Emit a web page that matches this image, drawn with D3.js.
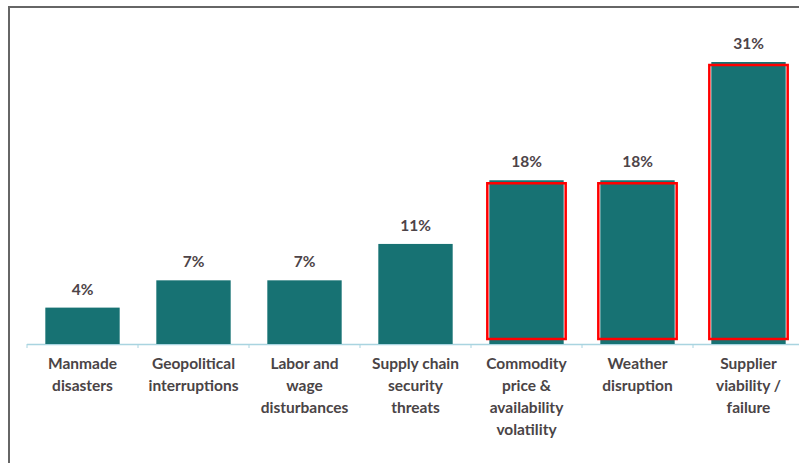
<!DOCTYPE html>
<html>
<head>
<meta charset="utf-8">
<script src="https://cdn.jsdelivr.net/npm/d3@7"></script>
<style>
  html, body { margin: 0; padding: 0; background: #fff; }
  svg { display: block; }
</style>
</head>
<body>
<svg id="chart" width="799" height="463"></svg>
<script>
// ---- data ----
const categories = [
  ["Manmade", "disasters"],
  ["Geopolitical", "interruptions"],
  ["Labor and", "wage", "disturbances"],
  ["Supply chain", "security", "threats"],
  ["Commodity", "price &", "availability", "volatility"],
  ["Weather", "disruption"],
  ["Supplier", "viability /", "failure"]
];
const values = [4, 7, 7, 11, 18, 18, 31];
const valueLabels = ["4%", "7%", "7%", "11%", "18%", "18%", "31%"];
const highlighted = [false, false, false, false, true, true, true];

// ---- layout ----
const svg = d3.select("#chart");
const baseline = 344;

// frame (top and left edges)
svg.append("path")
  .attr("d", `M9,463 L9,7 L799,7`)
  .attr("fill", "none")
  .attr("stroke", "#666")
  .attr("stroke-width", 2);

const ids = d3.range(values.length);
const x = d3.scaleBand().domain(ids).range([27, 804]).paddingInner(0.33).paddingOuter(0.165);
const y = d3.scaleLinear().domain([0, 31]).range([baseline, 62]);

// axis line with tick marks at band boundaries
const step = x.step();
const x0 = x(0) - x.paddingOuter() * step;
svg.append("line")
  .attr("x1", x0).attr("x2", 804)
  .attr("y1", baseline + 0.5).attr("y2", baseline + 0.5)
  .attr("stroke", "#a9d4e0").attr("stroke-width", 1.5);
svg.selectAll(".tick").data(d3.range(values.length + 1)).join("line")
  .attr("x1", d => x0 + d * step).attr("x2", d => x0 + d * step)
  .attr("y1", baseline).attr("y2", baseline + 4)
  .attr("stroke", "#a9d4e0").attr("stroke-width", 1);

// bars
svg.selectAll(".bar").data(ids).join("rect")
  .attr("class", "bar")
  .attr("x", d => x(d))
  .attr("width", x.bandwidth())
  .attr("y", d => y(values[d]))
  .attr("height", d => baseline - y(values[d]))
  .attr("fill", "#177273");

// highlight outlines
svg.selectAll(".hl").data(ids.filter(d => highlighted[d])).join("rect")
  .attr("class", "hl")
  .attr("x", d => x(d) - 2)
  .attr("width", x.bandwidth() + 4)
  .attr("y", d => y(values[d]) + 3)
  .attr("height", d => baseline - 5 - (y(values[d]) + 3))
  .attr("fill", "none")
  .attr("stroke", "#ff0000")
  .attr("stroke-width", 2.5);

// value labels
svg.selectAll(".val").data(ids).join("text")
  .attr("x", d => x(d) + x.bandwidth() / 2)
  .attr("y", d => y(values[d]) - 13)
  .attr("text-anchor", "middle")
  .attr("font-family", "Lato, 'Open Sans', sans-serif")
  .attr("font-weight", "bold")
  .attr("font-size", 15.5)
  .attr("fill", "#4d4448")
  .text(d => valueLabels[d]);

// category labels
const cat = svg.selectAll(".cat").data(ids).join("text")
  .attr("text-anchor", "middle")
  .attr("font-family", "Lato, 'Open Sans', sans-serif")
  .attr("font-weight", "bold")
  .attr("font-size", 15.5)
  .attr("fill", "#4a4446");
cat.selectAll("tspan").data(d => categories[d].map(l => ({ d, l }))).join("tspan")
  .attr("x", o => x(o.d) + x.bandwidth() / 2)
  .attr("y", (o, i) => 369 + i * 22)
  .text(o => o.l);
</script>
</body>
</html>
